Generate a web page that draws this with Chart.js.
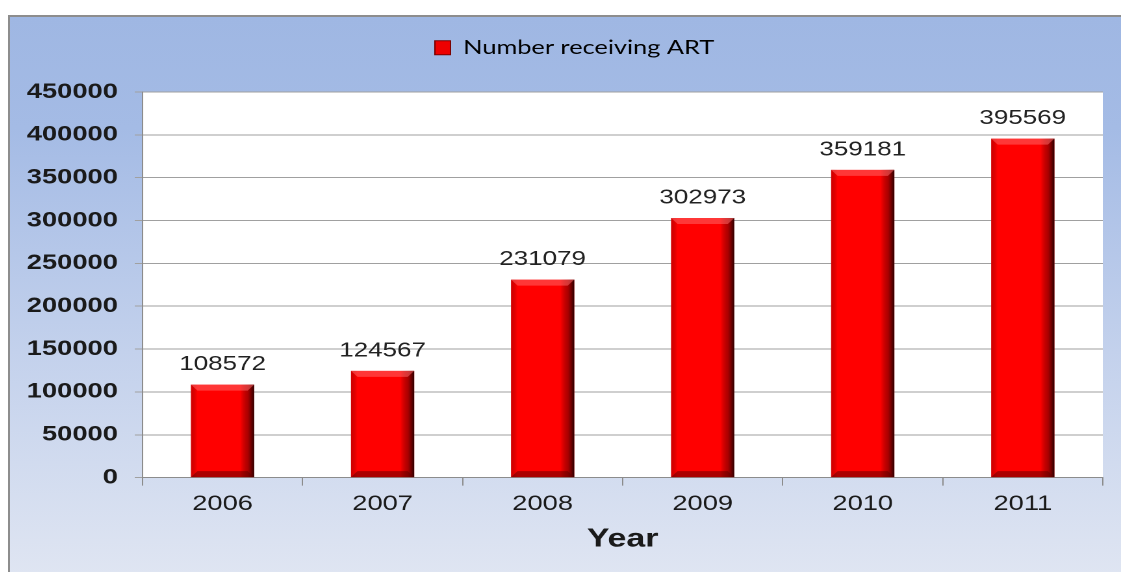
<!DOCTYPE html>
<html>
<head>
<meta charset="utf-8">
<script src="https://cdn.jsdelivr.net/npm/chart.js@4/dist/chart.umd.min.js"></script>
<style>
  html, body { margin: 0; padding: 0; background: #fff; width: 1121px; height: 572px; overflow: hidden; }
  #frame {
    position: absolute; left: 8px; top: 15px; width: 1113px; height: 557px;
    border-left: 2px solid #8d8d8d; border-top: 2px solid #8d8d8d;
    background: linear-gradient(#9fb7e3 0%, #a4bbe5 20%, #c3d1ec 60%, #dfe5f2 100%);
  }
  /* the chart is drawn narrow and stretched sideways, giving the wide lettering */
  #wrap { width: 855px; height: 555px; transform: scaleX(1.2994); transform-origin: 0 0; }
</style>
</head>
<body>
<div id="frame"><div id="wrap"><canvas id="grafico" width="855" height="555"></canvas></div></div>
<script>
// Número de pessoas em TARV por ano
const anos = ['2006', '2007', '2008', '2009', '2010', '2011'];
const recebendoART = [108572, 124567, 231079, 302973, 359181, 395569];
const nomeSerie = 'Number receiving ART';
const tituloEixoX = 'Year';
const eixoYMax = 450000;
const eixoYPasso = 50000;

const fonteBase = "'Liberation Sans', Arial, sans-serif";

// caixa vazia no layout, só para reservar espaço entre a legenda e o gráfico
function criarEspaco(altura) {
  return {
    position: 'top',
    weight: 500,
    fullSize: false,
    options: {},
    left: 0, top: 0, right: 0, bottom: 0, width: 0, height: 0,
    isHorizontal() { return true; },
    getPadding() { return { left: 0, top: 0, right: 0, bottom: 0 }; },
    update(maxWidth) {
      this.width = maxWidth;
      this.height = altura;
    },
    draw() {},
  };
}

const espacoPlugin = {
  id: 'espaco',
  beforeInit(chart) {
    Chart.layouts.addBox(chart, criarEspaco(24.5));
  },
  // legenda um pouco à direita do centro
  afterLayout(chart) {
    chart.legend.left += 14;
    chart.legend.right += 14;
  }
};

// fundo branco da área do gráfico
const fundoPlugin = {
  id: 'fundo',
  beforeDraw(chart) {
    const { ctx, chartArea } = chart;
    ctx.save();
    ctx.fillStyle = '#ffffff';
    ctx.fillRect(chartArea.left, chartArea.top, chartArea.right - chartArea.left, chartArea.bottom - chartArea.top);
    ctx.restore();
  }
};

// sombreado 3D das barras e rótulos de valor
const barrasPlugin = {
  id: 'barras3d',
  afterDatasetsDraw(chart) {
    const ctx = chart.ctx;
    const meta = chart.getDatasetMeta(0);
    meta.data.forEach((bar, i) => {
      const { x, y, base, width } = bar.getProps(['x', 'y', 'base', 'width'], true);
      const l = x - width / 2;
      const r = x + width / 2;
      const bv = 6, bh = 5;
      ctx.save();
      const g = ctx.createLinearGradient(l, 0, r, 0);
      g.addColorStop(0, 'rgba(120,0,0,0.35)');
      g.addColorStop(0.1, 'rgba(0,0,0,0)');
      g.addColorStop(0.78, 'rgba(0,0,0,0)');
      g.addColorStop(0.9, 'rgba(70,0,0,0.45)');
      g.addColorStop(1, 'rgba(20,0,0,0.9)');
      ctx.fillStyle = g;
      ctx.fillRect(l, y, width, base - y);

      ctx.beginPath();
      ctx.moveTo(l, y); ctx.lineTo(r, y); ctx.lineTo(r - bh, y + bv); ctx.lineTo(l + bh, y + bv);
      ctx.closePath();
      ctx.fillStyle = 'rgba(255,110,110,0.5)';
      ctx.fill();

      ctx.beginPath();
      ctx.moveTo(l, base); ctx.lineTo(r, base); ctx.lineTo(r - bh, base - bv); ctx.lineTo(l + bh, base - bv);
      ctx.closePath();
      ctx.fillStyle = 'rgba(90,0,0,0.5)';
      ctx.fill();

      ctx.fillStyle = '#222222';
      ctx.font = '20px ' + fonteBase;
      ctx.textAlign = 'center';
      ctx.textBaseline = 'bottom';
      ctx.fillText(String(recebendoART[i]), x, y - 10);
      ctx.restore();
    });
  }
};

new Chart(document.getElementById('grafico'), {
  type: 'bar',
  data: {
    labels: anos,
    datasets: [{
      label: nomeSerie,
      data: recebendoART,
      backgroundColor: '#ff0000',
      borderWidth: 0,
      categoryPercentage: 1,
      barPercentage: 0.395,
    }],
  },
  options: {
    responsive: false,
    animation: false,
    devicePixelRatio: 2,
    layout: { padding: { top: 4, right: 14, bottom: 17, left: 0 } },
    plugins: {
      tooltip: { enabled: false },
      legend: {
        position: 'top',
        labels: {
          font: { family: "Lato, 'Liberation Sans', sans-serif", size: 19.5 },
          color: '#1e2533',
          boxWidth: 12,
          boxHeight: 14,
          padding: 17,
          generateLabels: (chart) => [{
            text: nomeSerie,
            fillStyle: '#ee0000',
            strokeStyle: '#7a0000',
            lineWidth: 1,
            datasetIndex: 0,
          }],
        },
      },
    },
    scales: {
      x: {
        grid: { display: true, drawOnChartArea: false, offset: true, color: '#8c8c8c', tickLength: 8 },
        border: { color: '#8c8c8c' },
        ticks: { color: '#1a1a1a', font: { family: fonteBase, size: 21 }, padding: 6 },
        title: {
          display: true,
          text: tituloEixoX,
          color: '#1a1a1a',
          font: { family: fonteBase, size: 26, weight: 'bold' },
          padding: { top: 1, bottom: 0 },
        },
      },
      y: {
        min: 0,
        max: eixoYMax,
        afterFit: (scale) => { scale.width = 102; },
        grid: { color: '#a0a0a0', tickLength: 6 },
        border: { color: '#8c8c8c' },
        ticks: {
          stepSize: eixoYPasso,
          color: '#1a1a1a',
          padding: 13,
          font: { family: fonteBase, size: 21, weight: 'bold' },
          callback: (valor) => String(valor),
        },
      },
    },
  },
  plugins: [espacoPlugin, fundoPlugin, barrasPlugin],
});
</script>
</body>
</html>
